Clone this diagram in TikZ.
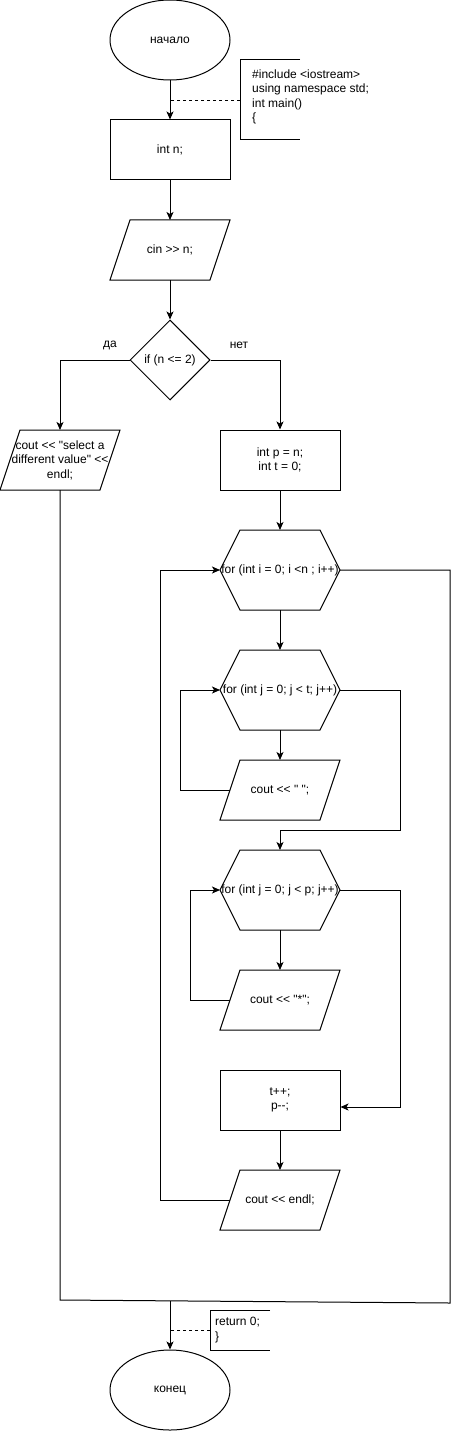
\documentclass[tikz,border=0pt]{standalone}
\usepackage{fontspec}
\newfontfamily\df{Liberation Sans}
\usetikzlibrary{arrows.meta,shapes.geometric,calc}
\tikzset{
  base/.style={line width=1pt, draw=black},
  arr/.style={base, -{Stealth[length=8pt,width=7pt,inset=2pt]}},
  ln/.style={base},
  dsh/.style={line width=0.8pt, dash pattern=on 3pt off 3pt},
  txt/.style={font=\df\fontsize{12}{14.5}\selectfont, align=center, inner sep=0pt},
  ltxt/.style={font=\df\fontsize{12}{14.5}\selectfont, align=left, inner sep=0pt, anchor=west},
  holder/.style={inner sep=0pt, outer sep=0pt, minimum width=120pt},
  rbox/.style={base, rectangle, minimum width=120pt, minimum height=60pt, inner sep=0pt, txt},
  oval/.style={base, ellipse, minimum width=120pt, minimum height=80pt, inner sep=0pt, txt},
}
\begin{document}
\begin{tikzpicture}[x=1pt,y=-1pt]
\useasboundingbox (0,0) rectangle (452,1431);

% start / end
\node[oval] (start) at (170,40) {начало};
\node[oval] (end) at (170,1390) {конец};

% comment 1
\draw[base] (300,60) -- (240,60) -- (240,140) -- (300,140);
\coordinate (cm1) at (240,100);
\node[ltxt] (cm1t) at (252,97) {\#include <iostream>\\using namespace std;\\int main()\\\{};

% rectangles
\node[rbox] (n1) at (170,150) {int n;};
\node[rbox] (p) at (280,460) {int p = n;\\int t = 0;};
\node[rbox] (tp) at (280,1100) {t++;\\p-{}-;};

% parallelograms (holders + outlines)
\node[holder, minimum height=60pt] (cin) at (170,250) {};
\node[holder, minimum height=60pt] (err) at (60,460) {};
\node[holder, minimum height=60pt] (sp) at (280,790) {};
\node[holder, minimum height=60pt] (st) at (280,1000) {};
\node[holder, minimum height=60pt] (el) at (280,1200) {};
\foreach \n in {cin,err,sp,st,el}{
  \draw[base] ($(\n.north west)+(20,0)$) -- (\n.north east) -- ($(\n.south east)+(-20,0)$) -- (\n.south west) -- cycle;
}
\node[txt] (cint) at (cin) {cin >> n;};
\node[txt] (errt) at (60,460) {cout << "select a\\different value" <<\\endl;};
\node[txt] (spt) at (sp) {cout << " ";};
\node[txt] (stt) at (st) {cout << "*";};
\node[txt] (elt) at (el) {cout << endl;};

% diamond
\node[base, diamond, minimum width=80pt, minimum height=80pt, inner sep=0pt] (d) at (170,360) {};
\node[txt] (dt) at (d) {if (n <= 2)};
\node[txt] (yes) at (110,345) {да};
\node[txt] (no) at (239,345) {нет};

% hexagons
\node[holder, minimum height=80pt] (h1) at (280,570) {};
\node[holder, minimum height=80pt] (h2) at (280,690) {};
\node[holder, minimum height=80pt] (h3) at (280,890) {};
\foreach \n in {h1,h2,h3}{
  \draw[base] (\n.west) -- ($(\n.north west)+(20,0)$) -- ($(\n.north east)+(-20,0)$) -- (\n.east) -- ($(\n.south east)+(-20,0)$) -- ($(\n.south west)+(20,0)$) -- cycle;
}
\node[txt] (h1t) at (h1) {for (int i = 0; i <n ; i++)};
\node[txt] (h2t) at (h2) {for (int j = 0; j < t; j++)};
\node[txt] (h3t) at (h3) {for (int j = 0; j < p; j++)};

% comment 2
\draw[base] (270,1310) -- (210,1310) -- (210,1350) -- (270,1350);
\coordinate (cm2) at (210,1330);
\node[ltxt] (cm2t) at (215,1330) {return 0;\\\}};

% connectors
\draw[arr] (start) -- (n1);
\draw[dsh] (cm1) -- (170,100);
\draw[arr] (n1) -- (cin.north);
\draw[arr] (cin.south) -- (d.north);
\draw[arr] (d.west) -| (err.north);
\draw[arr] (d.east) -| (p.north);
\draw[arr] (p.south) -- (h1.north);
\draw[arr] (h1.south) -- (h2.north);
\draw[arr] (h2.south) -- (sp.north);
\draw[arr] ($(sp.west)+(10,0)$) -- (180,790) |- (h2.west);
\coordinate (c1) at (400,830);
\draw[arr] (h2.east) -| (c1) -| (h3.north);
\draw[arr] (h3.south) -- (st.north);
\draw[arr] ($(st.west)+(10,0)$) -- (190,1000) |- (h3.west);
\coordinate (c2) at (400,1107);
\draw[arr] (h3.east) -| (c2) -- ($(tp.east)+(0,7)$);
\draw[arr] (tp.south) -- (el.north);
\draw[arr] ($(el.west)+(10,0)$) -- (160,1200) |- (h1.west);
\coordinate (jl) at (60,1300);
\coordinate (jr) at (450,1303);
\draw[ln] (err.south) -- (jl) -- (jr) |- (h1.east);
\coordinate (j) at (170,1301);
\draw[arr] (j) -- (end.north);
\draw[dsh] (cm2) -- (170,1330);
\end{tikzpicture}
\end{document}
